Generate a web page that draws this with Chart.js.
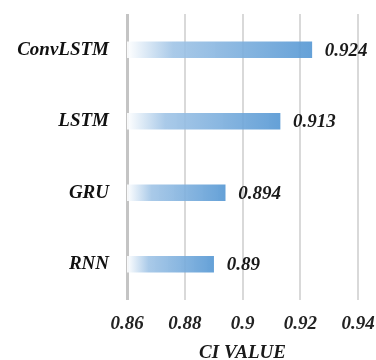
<!DOCTYPE html>
<html>
<head>
<meta charset="utf-8">
<script src="https://cdn.jsdelivr.net/npm/chart.js@4/dist/chart.umd.min.js"></script>
<style>
  html, body { margin: 0; padding: 0; background: #ffffff; }
  #wrap { width: 376px; height: 360px; }
</style>
</head>
<body>
<div id="wrap"><canvas id="c" width="376" height="360"></canvas></div>
<script>
const categories = ['ConvLSTM', 'LSTM', 'GRU', 'RNN'];
const ciValues = [0.924, 0.913, 0.894, 0.89];
const ciLabels = ['0.924', '0.913', '0.894', '0.89'];
const tickValues = [0.86, 0.88, 0.9, 0.92, 0.94];
const axisTitle = 'CI VALUE';

const FONT_FAMILY = "'Liberation Serif', 'Times New Roman', serif";

const valueLabels = {
  id: 'valueLabels',
  afterDatasetsDraw(chart) {
    const ctx = chart.ctx;
    const meta = chart.getDatasetMeta(0);
    ctx.save();
    ctx.font = "italic bold 19px " + FONT_FAMILY;
    ctx.fillStyle = '#1a1a1a';
    ctx.textAlign = 'left';
    ctx.textBaseline = 'middle';
    meta.data.forEach((bar, i) => {
      ctx.fillText(ciLabels[i], bar.x + 13, bar.y + 1);
    });
    ctx.restore();
  }
};

new Chart(document.getElementById('c'), {
  type: 'bar',
  data: {
    labels: categories,
    datasets: [{
      data: ciValues,
      barThickness: 16,
      borderWidth: 0,
      backgroundColor(c) {
        const chart = c.chart;
        const xs = chart.scales.x;
        if (!chart.chartArea || !xs || c.raw === undefined) return 'rgba(91,155,213,0.9)';
        const x0 = xs.getPixelForValue(xs.min);
        const x1 = xs.getPixelForValue(c.raw);
        const g = chart.ctx.createLinearGradient(x0, 0, x1, 0);
        g.addColorStop(0, 'rgba(255,255,255,0.9)');
        g.addColorStop(0.25, 'rgba(160,196,230,0.9)');
        g.addColorStop(1, 'rgba(88,153,212,0.92)');
        return g;
      }
    }]
  },
  options: {
    indexAxis: 'y',
    responsive: false,
    animation: false,
    devicePixelRatio: 1,
    layout: { padding: { top: 14, left: 0, right: 0, bottom: -3 } },
    plugins: {
      legend: { display: false },
      tooltip: { enabled: false }
    },
    scales: {
      x: {
        min: 0.86,
        max: 0.94,
        afterBuildTicks(scale) {
          scale.ticks = tickValues.map(v => ({ value: v }));
        },
        afterFit(scale) {
          scale.height = 63;
          scale.paddingLeft = 0;
          scale.paddingRight = 18;
        },
        ticks: {
          padding: 13,
          color: '#222222',
          font: { family: FONT_FAMILY, size: 19, style: 'italic', weight: 'bold', lineHeight: 1.2 },
          callback(v) { return String(v); },
          maxRotation: 0
        },
        grid: {
          drawTicks: false,
          color(c) { return c.index === 0 ? '#c4c4c4' : '#d9d9d9'; },
          lineWidth(c) { return c.index === 0 ? 3 : 2; }
        },
        border: { display: false },
        title: {
          display: true,
          text: axisTitle,
          color: '#1a1a1a',
          padding: { top: 0, bottom: 0 },
          font: { family: FONT_FAMILY, size: 19, style: 'italic', weight: 'bold', lineHeight: 1 }
        }
      },
      y: {
        afterFit(scale) {
          scale.width = 127;
          scale.paddingTop = 0;
          scale.paddingBottom = 0;
        },
        ticks: {
          padding: 18,
          color: '#111111',
          font: { family: FONT_FAMILY, size: 19, style: 'italic', weight: 'bold' }
        },
        grid: { display: false, drawTicks: false },
        border: { display: false }
      }
    }
  },
  plugins: [valueLabels]
});
</script>
</body>
</html>
